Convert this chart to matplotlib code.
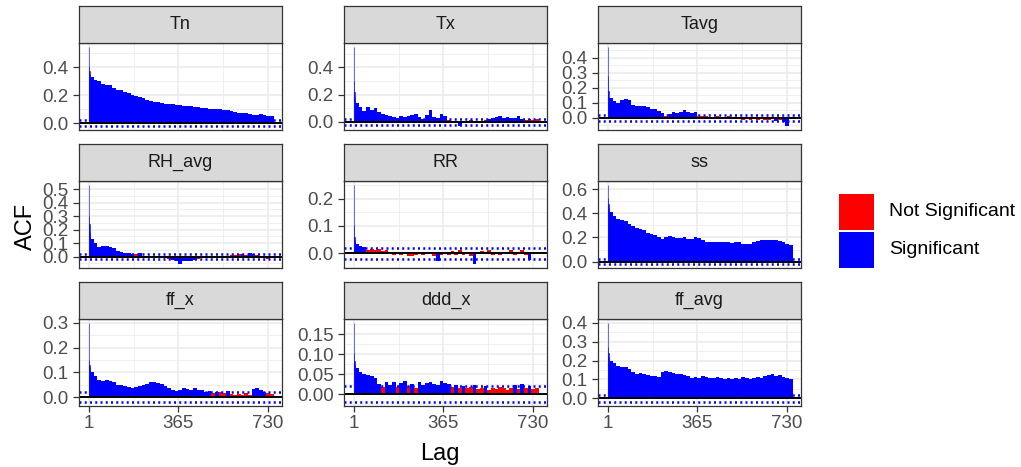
import numpy as np
import matplotlib.pyplot as plt
from matplotlib.patches import Rectangle

plt.rcParams['font.family'] = ['Liberation Sans', 'DejaVu Sans']

# 变量名（分面顺序）和显著性界限
variables = ['Tn', 'Tx', 'Tavg', 'RH_avg', 'RR', 'ss', 'ff_x', 'ddd_x', 'ff_avg']
conf = 0.02

# 前几个滞后单独给出，之后按 15 个滞后为一段读取（6-20, 21-35, ..., 741-755）
first_lags = [1, 2, 3, 4, 5]
block_size = 15
block_lags = np.arange(6, 756, block_size) + (block_size - 1) / 2

tn_first = [0.545, 0.41, 0.37, 0.35, 0.34]
tn_blocks = [0.33, 0.31, 0.30, 0.28, 0.275, 0.27, 0.255, 0.24, 0.235, 0.225,
             0.215, 0.205, 0.195, 0.19, 0.18, 0.165, 0.16, 0.155, 0.15, 0.145,
             0.14, 0.14, 0.135, 0.13, 0.13, 0.125, 0.125, 0.12, 0.115, 0.115,
             0.11, 0.11, 0.105, 0.105, 0.10, 0.10, 0.095, 0.095, 0.09, 0.08,
             0.075, 0.072, 0.07, 0.065, 0.06, 0.058, 0.065, 0.06, 0.055, 0.05]

tx_first = [0.55, 0.30, 0.22, 0.18, 0.16]
tx_blocks = [0.14, 0.11, 0.08, 0.11, 0.09, 0.10, 0.07, 0.06, 0.05, 0.045,
             0.035, 0.03, 0.045, 0.035, 0.04, 0.05, 0.055, 0.035, 0.025, 0.05,
             0.085, 0.035, 0.03, 0.055, 0.04, 0.015, 0.01, 0.005, -0.03, -0.01,
             0.01, 0.015, 0.01, 0.005, -0.008, 0.012, 0.025, 0.03, 0.035, 0.045,
             0.03, 0.035, 0.03, 0.03, 0.045, 0.025, 0.015, 0.02, 0.015, 0.018]

tavg_first = [0.47, 0.28, 0.18, 0.14, 0.13]
tavg_blocks = [0.13, 0.11, 0.10, 0.12, 0.125, 0.12, 0.085, 0.08, 0.075, 0.075,
               0.07, 0.06, 0.055, 0.045, 0.03, 0.015, 0.025, 0.035, 0.03, 0.04,
               0.05, 0.035, 0.03, 0.04, 0.015, 0.01, 0.012, 0.008, 0.005, 0.01,
               -0.005, 0.003, 0.01, -0.005, 0.002, -0.01, -0.012, -0.005, -0.015, -0.01,
               -0.012, -0.008, -0.015, -0.012, -0.01, -0.022, -0.015, -0.025, -0.055, -0.01]

rh_first = [0.53, 0.30, 0.24, 0.18, 0.15]
rh_blocks = [0.13, 0.10, 0.07, 0.075, 0.075, 0.07, 0.065, 0.045, 0.035, 0.03,
             0.025, 0.022, 0.018, 0.025, 0.008, 0.005, -0.005, 0.003, -0.002, 0.005,
             -0.01, -0.015, -0.025, -0.03, -0.055, -0.03, -0.035, -0.032, -0.025, -0.018,
             -0.012, -0.008, -0.005, 0.003, -0.005, 0.002, 0.005, 0.008, 0.012, 0.01,
             0.018, 0.022, 0.015, 0.024, 0.022, 0.015, 0.005, -0.012, -0.018, -0.01]

rr_first = [0.25, 0.105, 0.06, 0.045, 0.05]
rr_blocks = [0.035, 0.025, 0.022, 0.012, 0.015, 0.01, 0.014, 0.008, 0.012, 0.004,
             -0.006, -0.004, -0.008, 0.003, -0.01, -0.012, -0.005, 0.006, -0.008, -0.004,
             0.005, -0.01, -0.03, -0.006, 0.004, -0.008, 0.008, -0.005, 0.01, -0.006,
             0.006, -0.012, -0.04, 0.004, 0.008, -0.004, 0.01, -0.006, 0.005, -0.008,
             0.006, -0.004, 0.01, -0.008, 0.004, 0.012, -0.006, -0.026, 0.005, 0.003]

ss_first = [0.635, 0.53, 0.48, 0.45, 0.43]
ss_blocks = [0.41, 0.38, 0.35, 0.345, 0.335, 0.31, 0.295, 0.275, 0.27, 0.26,
             0.24, 0.23, 0.22, 0.20, 0.19, 0.20, 0.21, 0.20, 0.195, 0.195,
             0.20, 0.19, 0.185, 0.20, 0.195, 0.18, 0.165, 0.16, 0.165, 0.16,
             0.16, 0.165, 0.16, 0.155, 0.16, 0.165, 0.15, 0.145, 0.15, 0.16,
             0.17, 0.175, 0.18, 0.175, 0.18, 0.175, 0.17, 0.165, 0.15, 0.14]

ffx_first = [0.30, 0.15, 0.13, 0.12, 0.11]
ffx_blocks = [0.10, 0.085, 0.07, 0.065, 0.07, 0.065, 0.06, 0.05, 0.048, 0.045,
              0.042, 0.038, 0.04, 0.045, 0.05, 0.055, 0.06, 0.062, 0.058, 0.055,
              0.045, 0.038, 0.03, 0.025, 0.03, 0.035, 0.033, 0.03, 0.035, 0.03,
              0.028, 0.022, 0.025, 0.018, 0.022, 0.02, 0.016, 0.024, 0.012, 0.01,
              0.012, 0.008, 0.015, 0.01, 0.032, 0.035, 0.028, 0.022, 0.015, 0.012]

ddd_first = [0.178, 0.104, 0.083, 0.075, 0.07]
ddd_blocks = [0.065, 0.055, 0.05, 0.048, 0.045, 0.04, 0.025, 0.018, 0.03, 0.022,
              0.03, 0.018, 0.028, 0.032, 0.02, 0.025, 0.016, 0.03, 0.022, 0.028,
              0.03, 0.025, 0.022, 0.032, 0.028, 0.025, 0.018, 0.022, 0.016, 0.021,
              0.015, 0.018, 0.022, 0.012, 0.016, 0.021, 0.01, 0.014, 0.012, 0.018,
              0.015, 0.011, 0.016, 0.022, 0.013, 0.024, 0.015, 0.021, 0.012, 0.014]

ffavg_first = [0.40, 0.27, 0.24, 0.22, 0.21]
ffavg_blocks = [0.20, 0.19, 0.17, 0.165, 0.165, 0.155, 0.14, 0.13, 0.135, 0.13,
                0.125, 0.12, 0.12, 0.115, 0.14, 0.145, 0.14, 0.135, 0.13, 0.13,
                0.125, 0.12, 0.11, 0.115, 0.11, 0.12, 0.115, 0.11, 0.11, 0.115,
                0.11, 0.105, 0.11, 0.105, 0.11, 0.105, 0.115, 0.11, 0.10, 0.11,
                0.115, 0.11, 0.12, 0.125, 0.13, 0.12, 0.125, 0.115, 0.11, 0.105]

firsts = [tn_first, tx_first, tavg_first, rh_first, rr_first,
          ss_first, ffx_first, ddd_first, ffavg_first]
blocks = [tn_blocks, tx_blocks, tavg_blocks, rh_blocks, rr_blocks,
          ss_blocks, ffx_blocks, ddd_blocks, ffavg_blocks]

# y 轴刻度间隔和小数位
y_steps = [0.2, 0.2, 0.1, 0.1, 0.1, 0.2, 0.1, 0.05, 0.1]
y_decimals = [1, 1, 1, 1, 1, 1, 1, 2, 1]

legend_labels = ['Not Significant', 'Significant']
sig_color = '#0000FF'
nonsig_color = '#FF0000'

W, H = 1021, 467
fig = plt.figure(figsize=(W / 100, H / 100), dpi=100)


def px_axes(left, top, width, height):
    # 用像素坐标放置坐标轴
    return fig.add_axes([left / W, 1 - (top + height) / H, width / W, height / H])


col_left = [79, 344, 598]
strip_top = [6, 144, 282]
panel_w, strip_h, panel_h = 203, 37, 87

for i, name in enumerate(variables):
    row, col = i // 3, i % 3
    ax = px_axes(col_left[col], strip_top[row] + strip_h, panel_w, panel_h)
    strip = px_axes(col_left[col], strip_top[row], panel_w, strip_h)

    # 分面标题
    strip.set_facecolor('#D9D9D9')
    strip.set_xticks([])
    strip.set_yticks([])
    for s in strip.spines.values():
        s.set_color('#333333')
        s.set_linewidth(0.9)
    strip.text(0.5, 0.5, name, ha='center', va='center', fontsize=13,
               color='#1A1A1A', transform=strip.transAxes)

    # 显著的为蓝色，不显著的为红色
    f_vals = np.array(firsts[i])
    b_vals = np.array(blocks[i])
    f_col = [sig_color if abs(v) > conf else nonsig_color for v in f_vals]
    b_col = [sig_color if abs(v) > conf else nonsig_color for v in b_vals]
    ax.bar(first_lags, f_vals, width=0.9, color=f_col, edgecolor=f_col,
           linewidth=0.5, alpha=0.8)
    ax.bar(block_lags, b_vals, width=block_size, color=b_col, linewidth=0)

    ax.axhline(0, color='black', linewidth=1.4)
    ax.axhline(conf, color='blue', linewidth=1.8, linestyle=(0, (0.8, 1.3)))
    ax.axhline(-conf, color='blue', linewidth=1.8, linestyle=(0, (0.8, 1.3)))

    # 坐标范围：两端各留 5%
    lo = min(f_vals.min(), b_vals.min(), -conf)
    hi = max(f_vals.max(), b_vals.max(), conf)
    pad = (hi - lo) * 0.05
    ax.set_ylim(lo - pad, hi + pad)
    ax.set_xlim(-40, 789)

    step = y_steps[i]
    yt = np.arange(0, hi + pad + 1e-9, step)
    ax.set_yticks(yt)
    ax.set_yticklabels([f'{v:.{y_decimals[i]}f}' for v in yt])
    ym = np.concatenate([[-step / 2], yt + step / 2])
    ax.set_yticks(ym[(ym > lo - pad) & (ym < hi + pad)], minor=True)
    ax.set_xticks([1, 365, 730])
    ax.set_xticks([183, 547.5], minor=True)

    ax.grid(which='major', color='#EBEBEB', linewidth=1.1)
    ax.grid(which='minor', color='#EBEBEB', linewidth=0.55)
    ax.set_axisbelow(True)
    for s in ax.spines.values():
        s.set_color('#333333')
        s.set_linewidth(0.9)
    ax.tick_params(which='minor', length=0)
    ax.tick_params(axis='y', length=4.3, width=0.9, color='#333333',
                   labelcolor='#4D4D4D', labelsize=13.5, pad=3)
    ax.tick_params(axis='x', length=4.3, width=0.9, color='#333333',
                   labelcolor='#4D4D4D', labelsize=13.5, pad=2)
    if row < 2:
        ax.tick_params(axis='x', bottom=False, labelbottom=False)

fig.text(32 / W, 1 - 226 / H, 'ACF', rotation=90, rotation_mode='anchor',
         ha='center', va='baseline', fontsize=17)
fig.text(440 / W, 1 - 460 / H, 'Lag', ha='center', va='baseline', fontsize=17)

# 图例：手动放置色块和文字
key_tops = [194, 232]
for label, c, top in zip(legend_labels, [nonsig_color, sig_color], key_tops):
    fig.add_artist(Rectangle((839 / W, 1 - (top + 36) / H), 35 / W, 36 / H,
                             transform=fig.transFigure, facecolor=c,
                             edgecolor='none'))
    fig.text(889 / W, 1 - (top + 18) / H, label, ha='left', va='center',
             fontsize=14)

plt.savefig('out.png', dpi=100)
